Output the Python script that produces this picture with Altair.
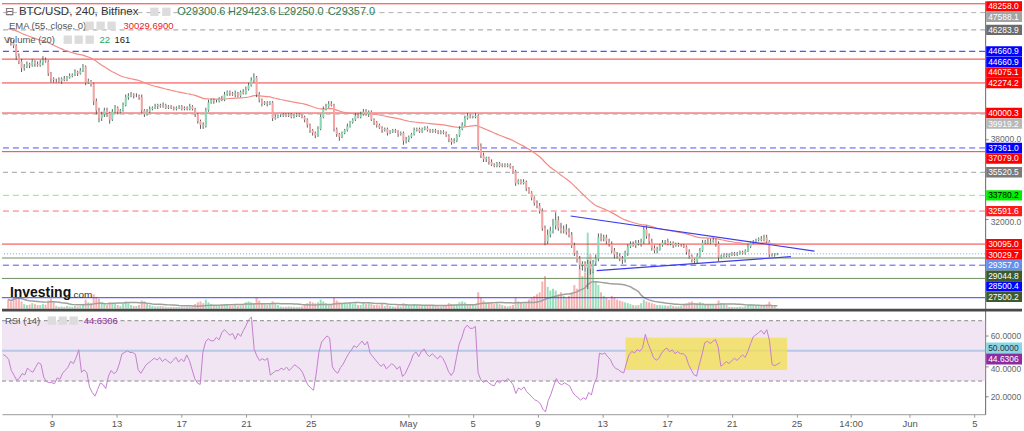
import altair as alt
import pandas as pd

# ------------------------------------------------------------------ data
START = "2022-04-06 00:00"          # first 4h candle
FIRST_OPEN = 45500.0

# 4-hour closes, one row per day (6 candles per day)
CLOSES = [
    [45400, 45300, 45100, 44300, 43900, 43400],
    [43500, 43700, 43600, 43900, 43700, 43600],
    [43800, 44000, 43900, 43000, 42600, 42500],
    [42500, 42400, 42600, 42500, 42700, 42800],
    [42900, 43100, 43000, 43200, 43500, 42300],
    [42400, 42200, 40900, 40200, 39600, 39900],
    [40200, 40000, 39500, 40100, 40400, 40100],
    [40200, 40600, 41200, 41300, 41400, 41300],
    [41300, 41200, 40200, 39900, 40100, 40300],
    [40400, 40500, 40600, 40500, 40600, 40400],
    [40500, 40400, 40300, 40400, 40500, 40300],
    [40400, 40300, 40500, 40300, 39900, 39400],
    [39100, 39000, 40200, 40800, 41000, 40900],
    [40900, 41100, 41000, 41400, 41600, 41500],
    [41400, 41500, 41300, 41600, 41500, 41800],
    [42100, 42500, 42700, 41400, 41000, 40700],
    [40800, 40700, 40800, 39600, 39700, 39800],
    [39800, 39900, 39800, 39900, 39700, 39800],
    [39900, 39800, 39700, 39500, 39100, 38700],
    [38500, 38300, 38800, 39700, 40300, 40500],
    [40700, 40600, 38800, 38400, 38200, 38500],
    [38700, 39000, 39300, 39500, 39800, 39700],
    [39900, 40100, 39900, 40100, 39500, 39300],
    [39100, 38900, 38700, 38800, 38500, 38600],
    [38700, 38600, 38400, 38500, 37900, 38000],
    [38200, 38400, 38700, 38800, 38600, 38800],
    [38900, 38700, 38600, 38700, 38600, 38500],
    [38600, 38500, 38300, 38000, 37800, 37900],
    [38300, 38800, 39100, 39600, 39800, 39700],
    [39700, 39800, 37500, 36800, 36500, 36600],
    [36300, 36100, 36000, 36200, 36000, 36100],
    [36000, 36100, 35900, 35600, 34700, 34900],
    [34700, 34800, 34300, 34000, 33600, 33200],
    [33000, 32600, 31300, 30300, 30800, 31100],
    [31500, 31900, 31300, 31100, 31200, 31000],
    [30800, 30000, 29400, 29000, 28500, 28600],
    [28300, 28600, 28200, 28700, 29000, 30600],
    [30500, 30600, 30300, 30100, 29600, 29300],
    [29200, 29000, 28900, 29400, 29900, 30100],
    [30000, 30200, 30100, 30300, 31200, 30700],
    [30300, 29800, 29600, 29700, 30000, 30200],
    [30300, 30100, 30200, 30000, 30100, 30000],
    [30000, 29900, 29500, 29200, 28900, 28800],
    [29200, 29600, 30200, 30300, 30200, 30300],
    [30400, 30100, 29100, 29200, 29300, 29200],
    [29300, 29400, 29300, 29400, 29500, 29400],
    [29600, 29900, 30200, 30300, 30400, 30500],
    [30400, 30600, 30300, 29300, 29250, 29300.6],
    [29357.0],
]

# upper / lower wick lengths beyond the body, in hundreds of USD
WICK_UP = [
    [2, 3, 2, 1, 2, 2], [2, 2, 1, 2, 1, 2], [2, 3, 2, 1, 1, 1], [1, 2, 1, 2, 1, 2],
    [1, 2, 1, 2, 2, 1], [2, 1, 1, 2, 2, 2], [2, 2, 1, 2, 2, 1], [1, 2, 2, 2, 2, 1],
    [2, 1, 2, 1, 2, 2], [1, 2, 1, 1, 2, 1], [1, 1, 1, 1, 1, 1], [1, 1, 2, 1, 1, 1],
    [1, 2, 2, 2, 1, 1], [1, 1, 2, 2, 1, 1], [1, 2, 1, 1, 2, 2], [2, 2, 3, 1, 2, 1],
    [1, 1, 1, 1, 2, 1], [1, 1, 1, 1, 1, 1], [1, 1, 1, 1, 1, 1], [1, 1, 2, 2, 2, 2],
    [2, 2, 1, 1, 1, 1], [1, 2, 1, 1, 2, 2], [2, 2, 2, 1, 1, 1], [1, 1, 1, 1, 1, 1],
    [1, 1, 1, 1, 1, 2], [1, 1, 2, 1, 1, 1], [1, 1, 1, 1, 1, 1], [1, 1, 1, 1, 1, 2],
    [1, 2, 2, 2, 2, 1], [1, 2, 1, 2, 2, 1], [1, 2, 1, 1, 1, 1], [1, 1, 1, 1, 1, 1],
    [1, 2, 1, 1, 1, 1], [2, 2, 2, 2, 4, 3], [5, 6, 3, 4, 3, 4], [3, 2, 2, 2, 2, 2],
    [2, 3, 2, 2, 3, 3], [3, 2, 2, 2, 2, 2], [2, 2, 2, 2, 2, 2], [2, 2, 2, 2, 2, 3],
    [2, 2, 2, 2, 1, 2], [1, 2, 1, 1, 1, 1], [1, 1, 1, 2, 1, 1], [2, 2, 2, 1, 2, 2],
    [2, 1, 2, 1, 1, 1], [1, 1, 1, 1, 1, 1], [1, 2, 1, 1, 1, 1], [2, 2, 2, 1, 1, 1],
    [0.666],
]
WICK_DN = [
    [1, 2, 2, 3, 2, 3], [2, 1, 2, 1, 2, 1], [1, 2, 1, 2, 3, 2], [2, 1, 2, 1, 1, 1],
    [1, 1, 2, 1, 1, 2], [1, 2, 3, 3, 3, 2], [2, 3, 3, 1, 1, 2], [1, 1, 1, 2, 1, 2],
    [1, 2, 2, 2, 1, 1], [1, 1, 2, 1, 1, 1], [1, 1, 1, 1, 1, 1], [1, 1, 1, 1, 2, 2],
    [3, 2, 1, 1, 1, 2], [1, 1, 1, 1, 1, 2], [1, 2, 1, 1, 1, 1], [1, 1, 2, 2, 2, 2],
    [1, 2, 1, 2, 1, 1], [1, 1, 1, 1, 1, 1], [1, 1, 1, 2, 2, 2], [2, 2, 1, 1, 1, 1],
    [1, 1, 2, 2, 3, 1], [1, 1, 1, 1, 1, 1], [1, 1, 1, 2, 1, 2], [2, 1, 2, 1, 2, 1],
    [1, 1, 2, 1, 3, 2], [2, 1, 1, 1, 1, 1], [1, 1, 1, 1, 1, 1], [1, 1, 1, 2, 2, 1],
    [1, 1, 1, 1, 1, 1], [1, 1, 3, 2, 2, 2], [2, 1, 1, 1, 1, 1], [1, 1, 1, 2, 2, 1],
    [1, 1, 2, 1, 2, 2], [2, 2, 2, 3, 2, 2], [2, 3, 2, 2, 2, 2], [2, 2, 2, 3, 3, 4],
    [3, 16, 4, 3, 2, 2], [2, 2, 2, 2, 2, 3], [2, 2, 3, 2, 2, 1], [1, 2, 1, 2, 2, 2],
    [2, 2, 2, 2, 1, 1], [1, 1, 1, 2, 1, 1], [1, 1, 2, 2, 2, 2], [2, 1, 1, 1, 1, 1],
    [1, 2, 3, 1, 1, 1], [1, 1, 1, 1, 1, 1], [1, 1, 1, 1, 1, 1], [1, 1, 1, 2, 1, 1],
    [0.506],
]

VOLUME = [
    [500, 400, 600, 800, 600, 400], [250, 200, 220, 300, 250, 200],
    [200, 250, 220, 450, 550, 350], [150, 100, 120, 100, 150, 120],
    [100, 150, 120, 130, 250, 500], [350, 300, 800, 650, 550, 350],
    [300, 200, 350, 300, 250, 200], [150, 250, 400, 300, 200, 150],
    [150, 200, 450, 400, 250, 200], [150, 120, 130, 150, 120, 100],
    [80, 90, 100, 90, 80, 90], [80, 100, 90, 110, 250, 350],
    [400, 300, 500, 350, 250, 200], [200, 150, 200, 250, 200, 150],
    [150, 200, 150, 180, 250, 350], [400, 350, 300, 600, 450, 300],
    [250, 200, 250, 400, 250, 200], [120, 100, 100, 120, 110, 100],
    [90, 100, 120, 200, 300, 400], [350, 300, 350, 500, 400, 300],
    [250, 200, 600, 450, 350, 300], [300, 250, 300, 250, 300, 200],
    [200, 350, 250, 300, 250, 200], [200, 180, 250, 150, 200, 150],
    [120, 100, 150, 120, 300, 250], [200, 180, 250, 200, 150, 150],
    [200, 180, 200, 180, 150, 120], [120, 150, 200, 300, 250, 200],
    [250, 350, 400, 350, 250, 200], [200, 250, 900, 600, 450, 350],
    [350, 300, 250, 300, 250, 200], [150, 120, 150, 200, 600, 400],
    [350, 300, 350, 500, 600, 700], [800, 900, 1500, 1800, 1200, 1000],
    [1100, 1000, 800, 900, 700, 600], [700, 900, 1300, 1100, 2200, 1800],
    [2000, 4200, 3000, 2000, 1500, 1300], [900, 700, 600, 500, 700, 600],
    [500, 450, 400, 350, 300, 250], [200, 180, 200, 300, 500, 400],
    [350, 300, 250, 200, 200, 180], [180, 150, 200, 150, 120, 130],
    [150, 200, 300, 350, 400, 300], [300, 350, 300, 250, 200, 200],
    [200, 250, 450, 300, 250, 200], [100, 90, 80, 90, 110, 100],
    [130, 180, 220, 180, 160, 140], [140, 180, 230, 380, 200, 130],
    [22],
]

EMA_SEED = 46400.0                 # EMA(55) value at the left edge
RSI_SEED_GAIN, RSI_SEED_LOSS = 170.0, 180.0

# horizontal levels drawn on the price pane
LEVEL_PRICES = [48258.0, 47588.1, 46283.9, 44660.9, 44660.9, 44075.1, 42274.2,
                40000.3, 39919.2, 37361.0, 37079.0, 35520.5, 33780.2, 32591.6,
                30095.0, 29357.0, 29044.8, 28500.4, 27500.2, 26043.0]
LEVEL_KINDS = ["red", "grey", "dgrey", "bluedash", "bluedash", "red", "red",
               "red", "lgrey", "bluedash", "red", "mgrey", "greendash", "reddash",
               "red", "price", "olive", "bluedash", "olive", "blue"]
EMA_LAST = 30029.69

# trend lines (time, price)
TREND_UPPER = [("2022-05-11 02:24", 32218), ("2022-05-26 07:41", 29569)]
TREND_LOWER = [("2022-05-12 17:17", 28091), ("2022-05-24 20:24", 29142)]

# RSI highlight box
HILITE_T = ["2022-05-14 10:48", "2022-05-24 10:05"]
HILITE_RSI = [58.7, 37.3]
RSI_LAST = 44.6306

X_DOMAIN = ["2022-04-05 22:09", "2022-06-05 15:50"]
TICK_DATES = ["2022-04-09", "2022-04-13", "2022-04-17", "2022-04-21", "2022-04-25",
              "2022-05-01", "2022-05-05", "2022-05-09", "2022-05-13", "2022-05-17",
              "2022-05-21", "2022-05-25", "2022-05-28 08:24", "2022-06-01", "2022-06-05"]
TICK_LABELS = ["9", "13", "17", "21", "25", "May", "5", "9", "13", "17", "21", "25",
               "14:00", "Jun", "5"]

PRICE_DOMAIN = [25217, 48480]
VOL_DOMAIN = [0, 17000]
RSI_DOMAIN = [8, 78]

# ------------------------------------------------------------------ build table
t0 = pd.Timestamp(START)


def dayoff(s):
    return round((pd.Timestamp(s) - t0).total_seconds() / 86400.0, 6)


closes = [c for d in CLOSES for c in d]
ups = [u for d in WICK_UP for u in d]
dns = [u for d in WICK_DN for u in d]
vols = [v for d in VOLUME for v in d]
n = len(closes)
opens = [FIRST_OPEN] + closes[:-1]
highs = [max(o, c) + u * 100 for o, c, u in zip(opens, closes, ups)]
lows = [min(o, c) - u * 100 for o, c, u in zip(opens, closes, dns)]

alpha = 2.0 / 56.0
ema, e = [], EMA_SEED
for c in closes:
    e = alpha * c + (1 - alpha) * e
    ema.append(e)

rsi, ag, al = [], RSI_SEED_GAIN, RSI_SEED_LOSS
prev = FIRST_OPEN
for c in closes:
    ch = c - prev
    ag = (ag * 13 + max(ch, 0)) / 14
    al = (al * 13 + max(-ch, 0)) / 14
    rsi.append(100 - 100 / (1 + ag / al))
    prev = c

df = pd.DataFrame({
    "t": [i / 6 for i in range(n)],
    "o": opens, "c": closes, "h": highs, "l": lows, "v": vols,
    "ema": ema, "rsi": rsi,
})
df["vma"] = df["v"].rolling(20, min_periods=1).mean()
df["dir"] = ["up" if c >= o else "dn" for o, c in zip(opens, closes)]

# ------------------------------------------------------------------ styles
W, HP, HR = 987, 309, 106
UP_C, DN_C, WICK_C = "#2ea584", "#b65f1c", "#5f5f5f"
FONT = "Liberation Sans"
NARROW = "Liberation Sans Narrow, Liberation Sans"

KIND = {
    "red": ("#f23b3b", None, "#ff0000", "white"),
    "grey": ("#b0b0b0", [5, 4], "#a3a3a3", "white"),
    "dgrey": ("#9a9a9a", [5, 4], "#6b6b6b", "white"),
    "bluedash": ("#5050ff", [6, 4], "#0000ff", "white"),
    "lgrey": ("#b5b5b5", [5, 4], "#b8b8b8", "white"),
    "mgrey": ("#a0a0a0", [5, 4], "#7a7a7a", "white"),
    "greendash": ("#7cf07c", [6, 4], "#00f000", "black"),
    "reddash": ("#ff7070", [6, 4], "#ff1a1a", "white"),
    "price": ("#7f9ff0", [1, 2], "#6690e8", "white"),
    "olive": ("#6f8f62", None, "#3d5a2e", "white"),
    "blue": ("#3a3aff", None, None, None),
}

XS = alt.Scale(domain=[dayoff(X_DOMAIN[0]), dayoff(X_DOMAIN[1])], nice=False, zero=False)
PS = alt.Scale(domain=PRICE_DOMAIN, nice=False, zero=False)
VS = alt.Scale(domain=VOL_DOMAIN, nice=False)
RS = alt.Scale(domain=RSI_DOMAIN, nice=False, zero=False)
X = alt.X("t:Q", scale=XS, axis=None)

px_per_price = (PRICE_DOMAIN[1] - PRICE_DOMAIN[0]) / HP
one = pd.DataFrame({"a": [0]})


def txt(s, x, y, color="#555", size=9.5, weight="normal", font=FONT):
    return alt.Chart(pd.DataFrame({"s": [s]})).mark_text(
        align="left", baseline="middle", color=color, fontSize=size,
        fontWeight=weight, font=font
    ).encode(text="s:N", x=alt.value(x), y=alt.value(y))


def icon(x, y):
    return alt.Chart(one).mark_square(size=70, color="#dcdcdc", filled=True, opacity=1).encode(
        x=alt.value(x), y=alt.value(y))


# ------------------------------------------------------------------ price pane
layers = []
layers.append(alt.Chart(df).mark_bar(width=2, opacity=0.85).encode(
    x=X, y=alt.Y("v:Q", scale=VS, axis=None),
    color=alt.Color("dir:N", scale=alt.Scale(domain=["up", "dn"], range=["#86d9b0", "#f5a3a3"]), legend=None),
))
layers.append(alt.Chart(df).mark_line(color="#a0a0a0", strokeWidth=1.5).encode(
    x=X, y=alt.Y("vma:Q", scale=VS, axis=None)))

for p, k in zip(LEVEL_PRICES, LEVEL_KINDS):
    lc, dash, _, _ = KIND[k]
    kw = {"color": lc, "strokeWidth": 1}
    if dash:
        kw["strokeDash"] = dash
    layers.append(alt.Chart(pd.DataFrame({"p": [p]})).mark_rule(**kw).encode(
        y=alt.Y("p:Q", scale=PS, axis=None)))

price_axis = alt.Axis(values=[38000, 32000], format=".1f", orient="right", title=None,
                      labelFontSize=8.5, labelColor="#666", labelFont=FONT,
                      tickSize=3, tickColor="#888", domainColor="#666", grid=False,
                      labelPadding=2,
                      labelOffset=alt.condition("datum.value == 38000", alt.value(-1), alt.value(2.5)))

layers.append(alt.Chart(df).mark_line(color="#f38b84", strokeWidth=1.2).encode(
    x=X, y=alt.Y("ema:Q", scale=PS, axis=price_axis)))
layers.append(alt.Chart(df).mark_rule(color=WICK_C, strokeWidth=1).encode(
    x=X, y=alt.Y("l:Q", scale=PS, axis=None), y2="h:Q"))
layers.append(alt.Chart(df).mark_bar(width=2).encode(
    x=X, y=alt.Y("o:Q", scale=PS, axis=None), y2="c:Q",
    color=alt.Color("dir:N", scale=alt.Scale(domain=["up", "dn"], range=[UP_C, DN_C]), legend=None)))

trend = pd.DataFrame(
    [{"id": "u", "t": dayoff(a), "p": b} for a, b in TREND_UPPER]
    + [{"id": "l", "t": dayoff(a), "p": b} for a, b in TREND_LOWER])
layers.append(alt.Chart(trend).mark_line(color="#3b3bf0", strokeWidth=1.2).encode(
    x=X, y=alt.Y("p:Q", scale=PS, axis=None), detail="id:N"))

# right-hand value labels, pushed down so they do not overlap
labs = [(p, KIND[k][2], KIND[k][3]) for p, k in zip(LEVEL_PRICES, LEVEL_KINDS) if KIND[k][2]]
labs.append((EMA_LAST, "#ff0000", "white"))
labs.sort(key=lambda r: -r[0])
gap = 10.6 * px_per_price
top_lim = PRICE_DOMAIN[1] - 5.5 * px_per_price
rows, last = [], None
for p, fill, tc in labs:
    lp = min(p, top_lim) if last is None else min(p, last - gap)
    last = lp
    rows.append({"txt": f"{p:.1f}", "lp": lp, "y1": lp + 5.2 * px_per_price,
                 "y2": lp - 5.2 * px_per_price, "fill": fill, "tc": tc})
labdf = pd.DataFrame(rows)
layers.append(alt.Chart(labdf).mark_rect().encode(
    x=alt.value(988), x2=alt.value(1024),
    y=alt.Y("y1:Q", scale=PS, axis=None), y2="y2:Q",
    color=alt.Color("fill:N", scale=None)))
layers.append(alt.Chart(labdf).mark_text(align="left", baseline="middle", fontSize=8.5, font=FONT).encode(
    x=alt.value(990), y=alt.Y("lp:Q", scale=PS, axis=None), text="txt:N",
    color=alt.Color("tc:N", scale=None)))

# header texts
layers += [
    txt("⊟", 3, 11, "#666", 11),
    txt("BTC/USD, 240, Bitfinex", 17, 11, "#333", 11.5),
    icon(153, 11), icon(165, 11),
    txt("O29300.6", 176, 11, "#2f7d4f", 11),
    txt("H29423.6", 227, 11, "#2f7d4f", 11),
    txt("L29250.0", 277, 11, "#2f7d4f", 11),
    txt("C29357.0", 327, 11, "#2f7d4f", 11),
    txt("EMA (55, close, 0)", 7, 25, "#555", 9.5),
    icon(88, 25), icon(99, 25), icon(110, 25),
    txt("30029.6900", 122, 25, "#f02020", 9.5),
    txt("Volume (20)", 2, 39, "#555", 9.5),
    icon(66, 39), icon(77, 39), icon(88, 39),
    txt("22", 98, 39, "#22aa55", 9.5),
    txt("161", 113, 39, "#222", 9.5),
    txt("Investing", 8, 293, "#111", 14, "bold"),
    txt(".com", 69, 295, "#333", 10),
]

top = alt.layer(*layers).resolve_scale(y="independent").properties(width=W, height=HP)

# ------------------------------------------------------------------ RSI pane
rsi_axis = alt.Axis(values=[60, 40, 20], format=".4f", orient="right", title=None,
                    labelFontSize=8.5, labelColor="#666", labelFont=FONT,
                    tickSize=3, tickColor="#888", domainColor="#666", grid=False,
                    labelPadding=2,
                    labelOffset=alt.condition("datum.value == 40", alt.value(3), alt.value(0)))
tick_vals = [dayoff(s) for s in TICK_DATES]
label_expr = "[" + ",".join(f"'{s}'" for s in TICK_LABELS) + "][indexof([" + \
    ",".join(repr(v) for v in tick_vals) + "], datum.value)]"
x_axis = alt.Axis(values=tick_vals, labelExpr=label_expr, title=None, grid=False,
                  labelFontSize=9.5, labelColor="#555", labelFont=NARROW,
                  tickSize=3, tickColor="#999", domainColor="#999", labelPadding=1,
                  labelFlush=False)
XR = alt.X("t:Q", scale=XS, axis=x_axis)


def RY(field):
    return alt.Y(field, scale=RS, axis=rsi_axis)


lev = pd.DataFrame({"hi": [70], "lo": [30], "mid": [50]})
band = alt.Chart(lev).mark_rect(color="#f1e4f3").encode(
    x=alt.value(0), x2=alt.value(W), y=RY("hi:Q"), y2="lo:Q")
mid = alt.Chart(lev).mark_rule(color="#b7c8e6", strokeWidth=2).encode(
    x=alt.value(0), x2=alt.value(W), y=RY("mid:Q"))
hl = pd.DataFrame({"t1": [dayoff(HILITE_T[0])], "t2": [dayoff(HILITE_T[1])],
                   "r1": [HILITE_RSI[0]], "r2": [HILITE_RSI[1]]})
hbox = alt.Chart(hl).mark_rect(color="#f2e04e", opacity=0.75).encode(
    x=alt.X("t1:Q", scale=XS, axis=x_axis), x2="t2:Q", y=RY("r1:Q"), y2="r2:Q")
dash70 = alt.Chart(lev).mark_rule(color="#8a8a8a", strokeDash=[4, 3]).encode(
    x=alt.value(0), x2=alt.value(W), y=RY("hi:Q"))
dash30 = alt.Chart(lev).mark_rule(color="#8a8a8a", strokeDash=[4, 3]).encode(
    x=alt.value(0), x2=alt.value(W), y=RY("lo:Q"))
rline = alt.Chart(df).mark_line(color="#c47fcf", strokeWidth=1).encode(x=XR, y=RY("rsi:Q"))

r_gap = 11 / (HR / (RSI_DOMAIN[1] - RSI_DOMAIN[0]))
rlabs = pd.DataFrame({
    "txt": ["50.0000", f"{RSI_LAST:.4f}"],
    "lp": [max(50.0, RSI_LAST + r_gap), RSI_LAST],
    "fill": ["#8ad6e6", "#8e2c9e"], "tc": ["#333", "white"]})
rlabs["y1"] = rlabs["lp"] + 0.5 * r_gap
rlabs["y2"] = rlabs["lp"] - 0.5 * r_gap
rrect = alt.Chart(rlabs).mark_rect().encode(
    x=alt.value(988), x2=alt.value(1024), y=RY("y1:Q"), y2="y2:Q",
    color=alt.Color("fill:N", scale=None))
rtext = alt.Chart(rlabs).mark_text(align="left", baseline="middle", fontSize=8.5, font=FONT).encode(
    x=alt.value(990), y=RY("lp:Q"), text="txt:N",
    color=alt.Color("tc:N", scale=None))
sep = alt.Chart(one).mark_rule(color="#4a4a4a", strokeWidth=3).encode(
    x=alt.value(0), x2=alt.value(1024), y=alt.value(1.5))

bottom = alt.layer(
    band, mid, hbox, dash70, dash30, rline, rrect, rtext, sep,
    txt("RSI (14)", 3, 12, "#555", 9.5),
    icon(50, 12), icon(61, 12), icon(72, 12),
    txt("44.6306", 82, 12, "#8e2c9e", 9.5),
).properties(width=W, height=HR)

chart = alt.vconcat(top, bottom, spacing=0, bounds="flush").properties(
    padding=0, background="white"
).configure_view(stroke=None)

chart.save("out.html", embed_options={"renderer": "svg", "actions": False})
